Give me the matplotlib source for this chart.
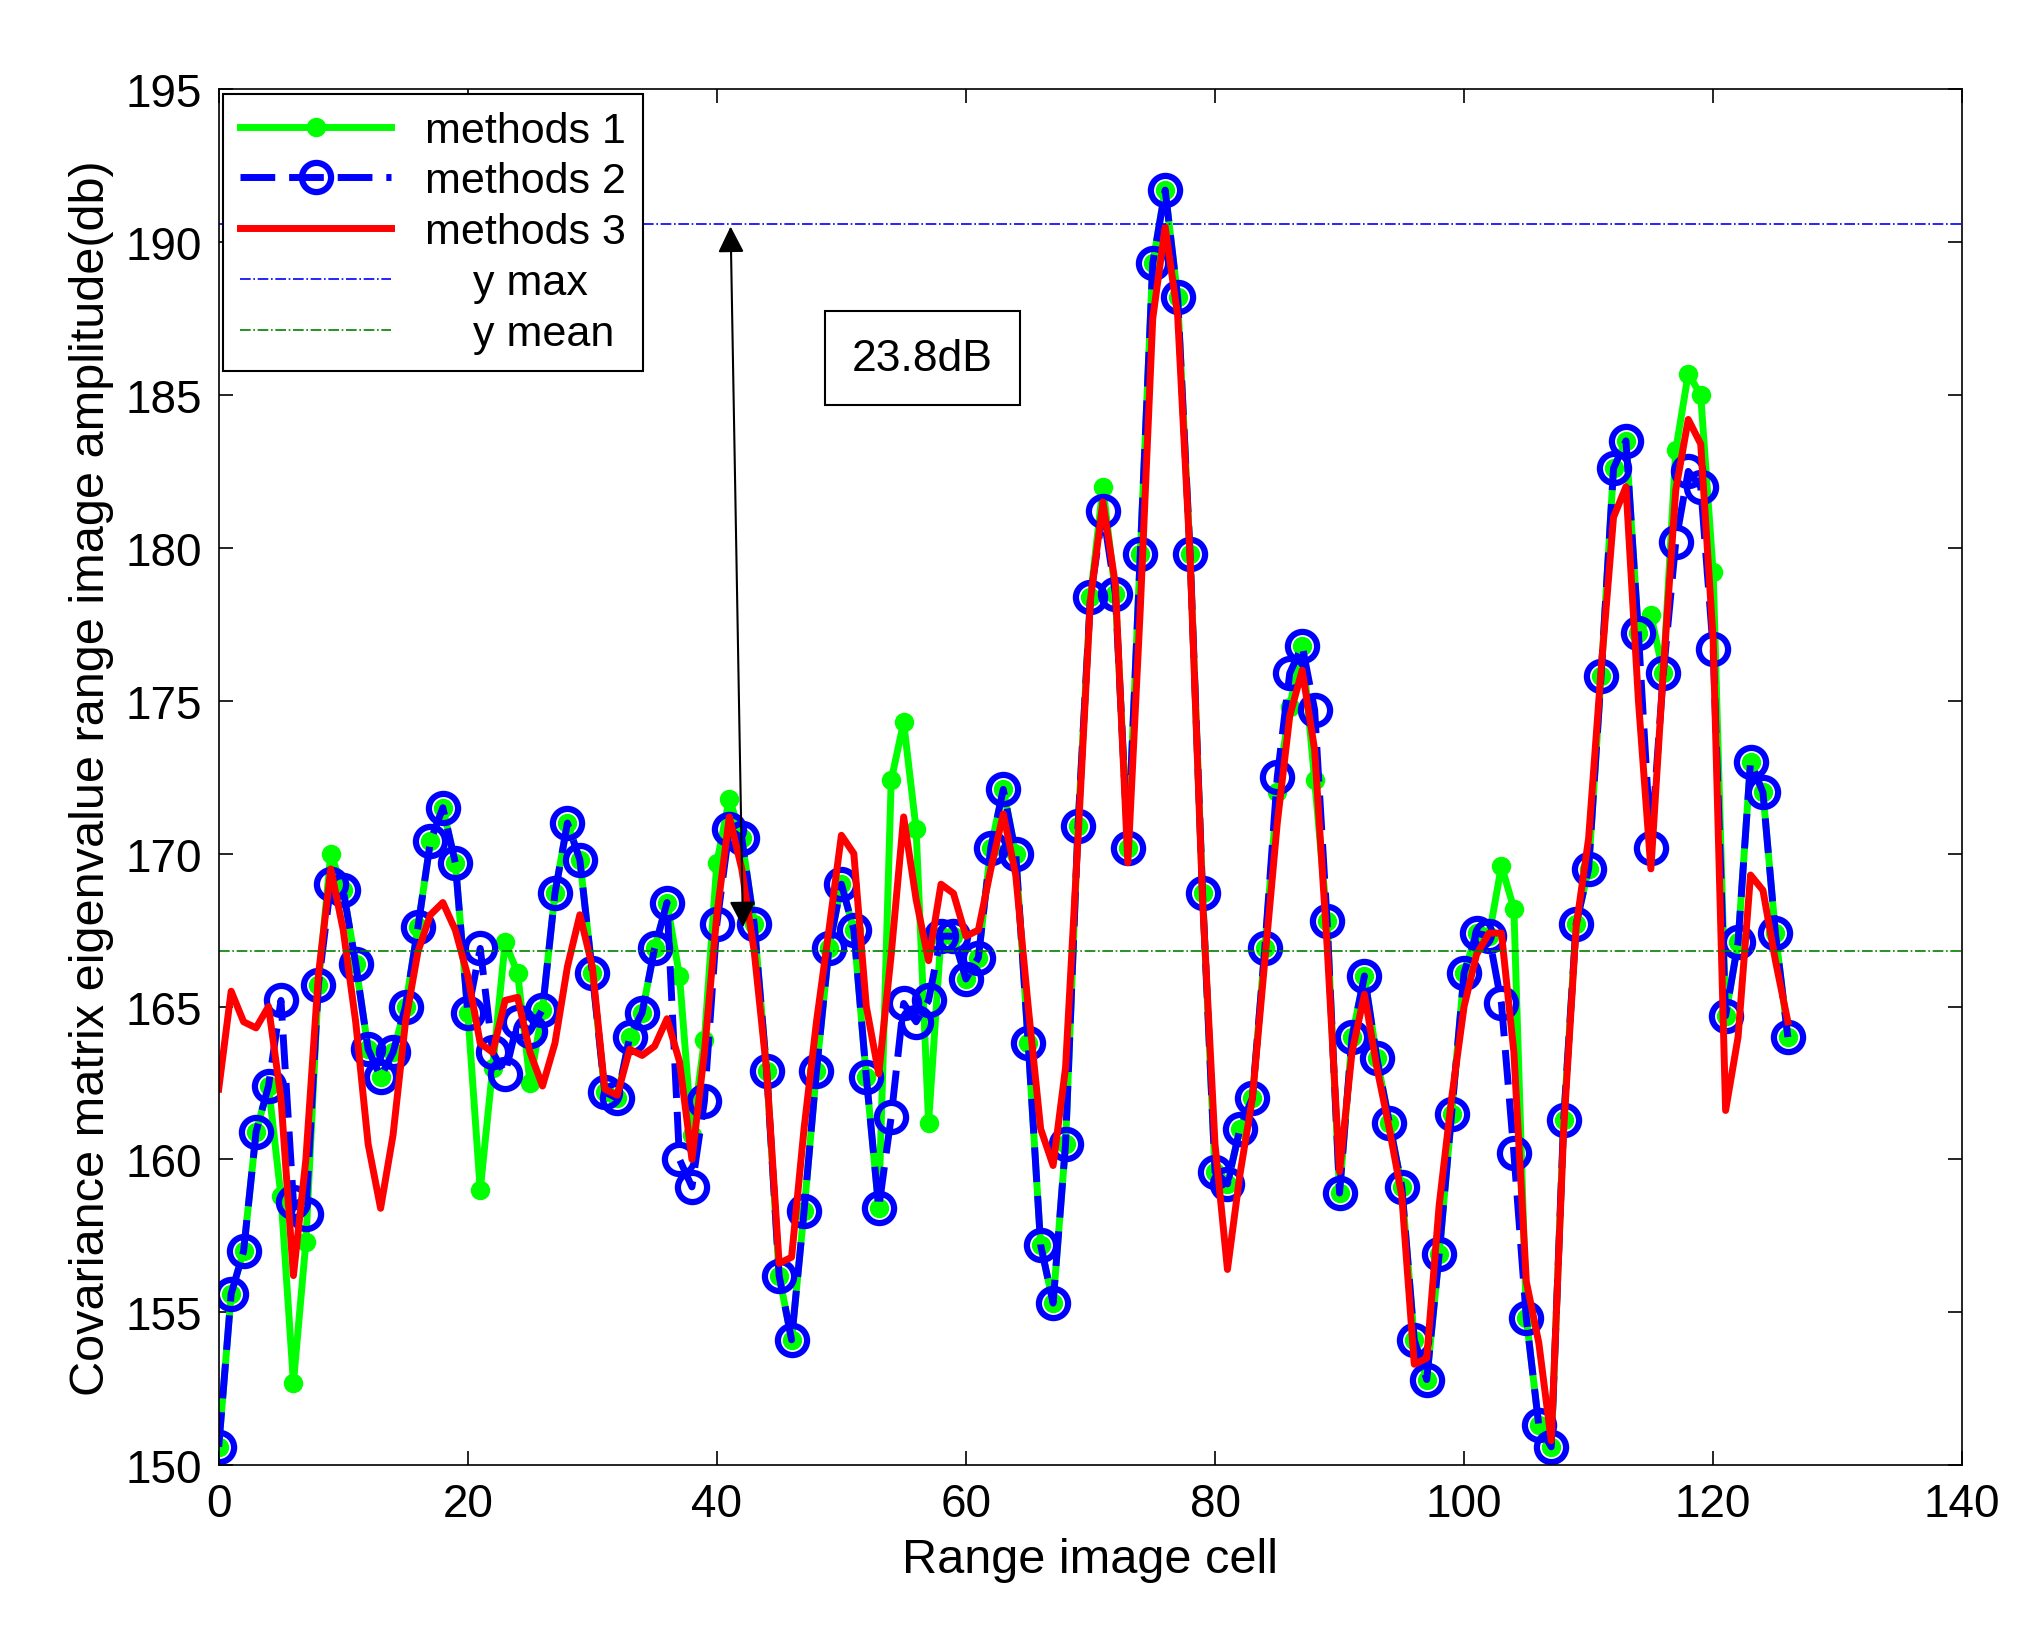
import numpy as np
import matplotlib.pyplot as plt

plt.rcParams['font.family'] = ['Liberation Sans', 'DejaVu Sans']

# methods 2 (blue circles)
m2 = [150.6, 155.6, 157.0, 160.9, 162.4, 165.2, 158.6, 158.2, 165.7, 169.0,
      168.8, 166.4, 163.6, 162.7, 163.5, 165.0, 167.6, 170.4, 171.5, 169.7,
      164.8, 166.9, 163.5, 162.8, 164.5, 164.2, 164.9, 168.7, 171.0, 169.8,
      166.1, 162.2, 162.0, 164.0, 164.8, 166.9, 168.4, 160.0, 159.1, 161.9,
      167.7, 170.8, 170.5, 167.7, 162.9, 156.2, 154.1, 158.3, 162.9, 166.9,
      169.0, 167.5, 162.7, 158.4, 161.4, 165.1, 164.5, 165.2, 167.3, 167.3,
      165.9, 166.6, 170.2, 172.1, 170.0, 163.8, 157.2, 155.3, 160.5, 170.9,
      178.4, 181.2, 178.5, 170.2, 179.8, 189.3, 191.7, 188.2, 179.8, 168.7,
      159.6, 159.2, 161.0, 162.0, 166.9, 172.5, 175.9, 176.8, 174.7, 167.8,
      158.9, 164.0, 166.0, 163.3, 161.2, 159.1, 154.1, 152.8, 156.9, 161.5,
      166.1, 167.4, 167.3, 165.1, 160.2, 154.8, 151.3, 150.6, 161.3, 167.7,
      169.5, 175.8, 182.6, 183.5, 177.2, 170.2, 175.9, 180.2, 182.5, 182.0,
      176.7, 164.7, 167.1, 173.0, 172.0, 167.4, 164.0]

# methods 1 (green) mostly equal to methods 2, differing at some cells
m1 = list(m2)
m1_diff = {5: 158.8, 6: 152.7, 7: 157.3, 9: 170.0, 21: 159.0, 22: 163.0,
           23: 167.1, 24: 166.1, 25: 162.5, 37: 166.0, 38: 160.8, 39: 163.9,
           40: 169.7, 41: 171.8, 54: 172.4, 55: 174.3, 56: 170.8, 57: 161.2,
           71: 182.0, 85: 172.0, 86: 174.8, 88: 172.4, 103: 169.6, 104: 168.2,
           115: 177.8, 117: 183.2, 118: 185.7, 119: 185.0, 120: 179.2}
for k, v in m1_diff.items():
    m1[k] = v

# methods 3 (red)
m3 = [162.3, 165.5, 164.5, 164.3, 165.0, 162.0, 156.2, 160.0, 166.0, 169.5,
      167.5, 164.5, 160.5, 158.4, 160.8, 164.5, 166.8, 168.0, 168.4, 167.5,
      166.0, 163.8, 163.5, 165.2, 165.3, 163.5, 162.4, 163.8, 166.3, 168.0,
      166.3, 162.3, 162.1, 163.6, 163.4, 163.7, 164.6, 163.2, 160.0, 163.5,
      168.0, 171.2, 169.5, 166.8, 162.9, 156.6, 156.8, 161.0, 164.5, 167.5,
      170.6, 170.0, 165.0, 162.8, 166.7, 171.2, 168.5, 166.5, 169.0, 168.7,
      167.3, 167.5, 169.5, 171.3, 169.3, 165.0, 161.0, 159.8, 163.0, 170.5,
      178.3, 181.5, 178.8, 169.7, 178.0, 187.5, 190.5, 187.6, 179.7, 168.5,
      160.5, 156.4, 159.5, 162.0, 166.5, 171.0, 174.5, 176.0, 173.4, 167.0,
      159.6, 163.5, 165.4, 163.0, 161.0, 158.8, 153.3, 153.5, 158.5, 162.0,
      165.0, 166.7, 167.4, 167.4, 163.5, 156.0, 154.0, 150.8, 161.0, 167.6,
      170.5, 176.0, 181.0, 182.0, 175.0, 169.5, 176.0, 181.9, 184.2, 183.4,
      177.0, 161.6, 164.0, 169.3, 168.8, 166.5, 164.5]

x = np.arange(len(m2))
y_max = 190.6
y_mean = 166.8

fig = plt.figure(figsize=(20.25, 16.4), dpi=100)
ax = fig.add_axes([0.108, 0.106, 0.861, 0.839])

ax.plot(x, m1, '-', color=(0, 1, 0), lw=5, marker='o', ms=13, mfc=(0, 1, 0), mec=(0, 1, 0), label='methods 1')
ax.plot(x, m2, '--', color=(0, 0, 1), lw=5, dashes=(5, 2), marker='o', ms=21, mfc='none', mec=(0, 0, 1), mew=4.5, label='methods 2')
ax.plot(x, m3, '-', color=(1, 0, 0), lw=5, label='methods 3')
ax.axhline(y_max, color='b', ls='-.', lw=1.2, label='    y max')
ax.axhline(y_mean, color='g', ls='-.', lw=1.2, label='    y mean')

ax.annotate('', xy=(41.1, y_max), xytext=(42.1, 167.5),
            arrowprops=dict(arrowstyle='<|-|>', color='k', lw=1.5, mutation_scale=40))
ax.text(56.5, 186.2, '23.8dB', fontsize=32, ha='center', va='center',
        bbox=dict(boxstyle='square,pad=0.6', fc='white', ec='k', lw=1.5))

ax.set_xlim(0, 140)
ax.set_ylim(150, 195)
ax.set_xticks(np.arange(0, 141, 20))
ax.set_yticks(np.arange(150, 196, 5))
ax.tick_params(labelsize=33, direction='in', length=10, width=1.2, top=True, right=True, pad=12)
ax.set_xlabel('Range image cell', fontsize=35, labelpad=8)
ax.set_ylabel('Covariance matrix eigenvalue range image amplitude(db)', fontsize=35, labelpad=8)
for s in ax.spines.values():
    s.set_linewidth(1.2)

leg = ax.legend(loc='upper left', fontsize=31, fancybox=False, edgecolor='k',
                framealpha=1, borderaxespad=0.1, handlelength=3.5, labelspacing=0.25)
leg.get_frame().set_linewidth(1.5)

fig.savefig('out.png', dpi=100)
